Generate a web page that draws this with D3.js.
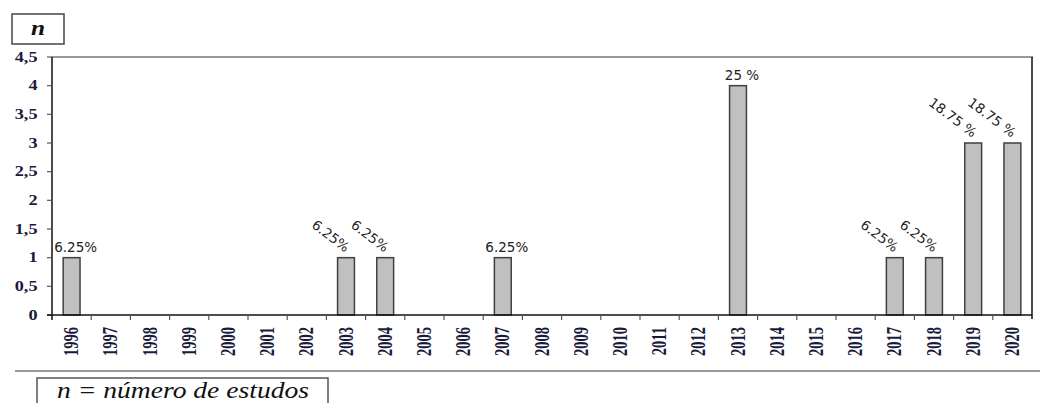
<!DOCTYPE html>
<html>
<head>
<meta charset="utf-8">
<script src="https://cdn.jsdelivr.net/npm/d3@7"></script>
<style>
  html, body { margin: 0; padding: 0; background: #fff; }
  svg { display: block; }
  .serif { font-family: "Liberation Serif", "Times New Roman", serif; }
  .sans { font-family: "DejaVu Sans", Verdana, sans-serif; }
</style>
</head>
<body>
<svg id="chart" width="1040" height="403"></svg>
<script>
// Studies per year of publication
const years = ["1996","1997","1998","1999","2000","2001","2002","2003","2004","2005","2006","2007","2008",
               "2009","2010","2011","2012","2013","2014","2015","2016","2017","2018","2019","2020"];
const counts = [1,0,0,0,0,0,0,1,1,0,0,1,0,0,0,0,0,4,0,0,0,1,1,3,3];
const shareLabels = ["6.25%","","","","","","","6.25%","6.25%","","","6.25%","","","","","","25 %","","","","6.25%","6.25%","18.75 %","18.75 %"];
const yTicks = [0,0.5,1,1.5,2,2.5,3,3.5,4,4.5];
const yMax = 4.5;

const svg = d3.select("#chart");
const plot = { left: 52, right: 1032, top: 57, bottom: 315 };

const x = d3.scaleBand().domain(years).range([plot.left, plot.right]).padding(0);
const y = d3.scaleLinear().domain([0, yMax]).range([plot.bottom, plot.top]);
const barW = x.bandwidth() * 0.43;
const fmt = v => String(v).replace(".", ",");

// top frame (grey) and right frame (black)
svg.append("line").attr("x1", plot.left - 5).attr("x2", plot.right + 1)
  .attr("y1", y(yMax)).attr("y2", y(yMax))
  .attr("stroke", "#9a9a9a").attr("stroke-width", 2);
svg.append("line").attr("x1", plot.right).attr("x2", plot.right)
  .attr("y1", y(yMax)).attr("y2", plot.bottom + 4)
  .attr("stroke", "#111").attr("stroke-width", 1.5);

// bars
svg.append("g").selectAll("rect").data(years).join("rect")
  .attr("x", d => x(d) + (x.bandwidth() - barW) / 2)
  .attr("y", (d, i) => y(counts[i]))
  .attr("width", barW)
  .attr("height", (d, i) => y(0) - y(counts[i]))
  .attr("fill", "#c0c0c0")
  .attr("stroke", "#404040")
  .attr("stroke-width", 1.5)
  .attr("display", (d, i) => counts[i] > 0 ? null : "none");

// y axis
const yAxis = svg.append("g");
yAxis.append("line").attr("x1", plot.left).attr("x2", plot.left)
  .attr("y1", y(yMax)).attr("y2", plot.bottom + 5)
  .attr("stroke", "#111").attr("stroke-width", 1.5);
yAxis.selectAll("line.tick").data(yTicks.filter(t => t < yMax)).join("line")
  .attr("class", "tick")
  .attr("x1", plot.left - 5).attr("x2", plot.left)
  .attr("y1", d => y(d)).attr("y2", d => y(d))
  .attr("stroke", "#555").attr("stroke-width", 1.2);
yAxis.selectAll("text").data(yTicks).join("text")
  .attr("class", "serif")
  .attr("transform", d => `translate(37.5,${y(d)}) scale(1.3,1)`)
  .attr("text-anchor", "end")
  .attr("dy", "0.33em")
  .attr("font-weight", "bold")
  .attr("font-size", 14)
  .attr("fill", "#1a1a3c")
  .text(fmt);

// x axis
const xAxis = svg.append("g");
xAxis.append("line").attr("x1", plot.left - 5).attr("x2", plot.right)
  .attr("y1", plot.bottom).attr("y2", plot.bottom)
  .attr("stroke", "#111").attr("stroke-width", 1.5);
xAxis.selectAll("line.tick").data(years.slice(1)).join("line")
  .attr("class", "tick")
  .attr("x1", d => x(d)).attr("x2", d => x(d))
  .attr("y1", plot.bottom).attr("y2", plot.bottom + 5)
  .attr("stroke", "#555").attr("stroke-width", 1.2);
xAxis.selectAll("text").data(years).join("text")
  .attr("class", "serif")
  .attr("transform", d => `translate(${x(d) + x.bandwidth() / 2 - 0.5},327) rotate(-90) scale(1,1.5)`)
  .attr("text-anchor", "end")
  .attr("dy", "0.33em")
  .attr("font-weight", "bold")
  .attr("font-size", 14.5)
  .attr("fill", "#1a1a3c")
  .text(d => d);

// share labels: tilted where a neighbouring bar is present, flat otherwise
const crowded = i => (counts[i - 1] || 0) > 0 || (counts[i + 1] || 0) > 0;
svg.append("g").selectAll("text").data(years).join("text")
  .attr("class", "sans")
  .attr("display", (d, i) => shareLabels[i] ? null : "none")
  .attr("transform", (d, i) => {
    const cx = x(d) + x.bandwidth() / 2, top = y(counts[i]);
    return crowded(i)
      ? `translate(${cx - 1},${top - 5}) rotate(37)`
      : `translate(${cx + 4},${top - 6})`;
  })
  .attr("text-anchor", (d, i) => crowded(i) ? "end" : "middle")
  .attr("font-size", 13.5)
  .attr("fill", "#222")
  .text((d, i) => shareLabels[i]);

// "n" key box
svg.append("rect").attr("x", 12).attr("y", 14).attr("width", 52).attr("height", 30)
  .attr("fill", "none").attr("stroke", "#444").attr("stroke-width", 1.5);
svg.append("text").attr("class", "serif")
  .attr("transform", "translate(38,35) scale(1.15,1)")
  .attr("text-anchor", "middle")
  .attr("font-style", "italic").attr("font-weight", "bold")
  .attr("font-size", 22).attr("fill", "#111")
  .text("n");

// separator and note
svg.append("line").attr("x1", 15).attr("x2", 1040).attr("y1", 371).attr("y2", 371)
  .attr("stroke", "#777").attr("stroke-width", 1.5);
svg.append("rect").attr("x", 37).attr("y", 378).attr("width", 291).attr("height", 40)
  .attr("fill", "none").attr("stroke", "#555").attr("stroke-width", 1.5);
svg.append("text").attr("class", "serif")
  .attr("transform", "translate(183,398) scale(1.2,1)")
  .attr("text-anchor", "middle")
  .attr("font-style", "italic")
  .attr("font-size", 23).attr("fill", "#111")
  .text("n = número de estudos");
</script>
</body>
</html>
